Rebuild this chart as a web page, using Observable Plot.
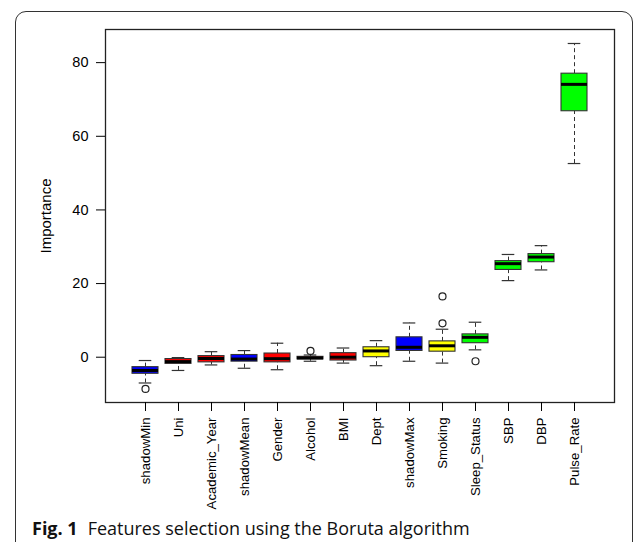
<!DOCTYPE html>
<html>
<head>
<meta charset="utf-8">
<script src="https://cdn.jsdelivr.net/npm/d3@7"></script>
<script src="https://cdn.jsdelivr.net/npm/@observablehq/plot@0.6"></script>
<style>
  html, body { margin: 0; padding: 0; background: #fff; }
  body { width: 638px; height: 542px; position: relative; overflow: hidden; }
  #card { position: absolute; left: 15px; top: 11px; width: 618px; height: 620px;
          border: 1.3px solid #333; border-radius: 11px; box-sizing: border-box; }
  #chart { position: absolute; left: 0; top: 0; }
  #chart svg g[aria-label="x-axis tick label"] { font-size: 13.2px !important; }
  #chart svg g[aria-label="y-axis tick label"] { font-size: 14.5px !important; }
  #chart svg g[aria-label="y-axis label"] { font-size: 15px !important; }
  #caption { position: absolute; left: 32px; top: 516px; font-family: "Open Sans", "Noto Sans", sans-serif;
             font-size: 18px; color: #111; white-space: nowrap; }
  #caption b { font-weight: 700; margin-right: 10px; }
</style>
</head>
<body>
<div id="card"></div>
<div id="chart"></div>
<div id="caption"><b>Fig. 1</b>Features selection using the Boruta algorithm</div>
<script>
const categories = ["shadowMin","Uni","Academic_Year","shadowMean","Gender","Alcohol","BMI","Dept","shadowMax","Smoking","Sleep_Status","SBP","DBP","Pulse_Rate"];
const whiskerLow  = [-7.0, -3.6, -2.1, -3.0, -3.4, -1.1, -1.6, -2.3, -1.1, -1.6,  2.0, 20.8, 23.7, 52.6];
const quartile1   = [-4.5, -1.8, -1.4, -1.2, -1.4, -0.6, -0.9,  0.0,  1.7,  1.5,  3.8, 23.7, 25.8, 66.8];
const medians     = [-3.6, -1.2, -0.35,-0.5, -0.4, -0.2,  0.0,  1.7,  2.7,  3.1,  5.4, 25.4, 27.2, 74.1];
const quartile3   = [-2.7, -0.5,  0.3,  0.6,  1.0,  0.1,  1.1,  2.7,  5.4,  4.3,  6.2, 26.1, 28.0, 77.0];
const whiskerHigh = [-0.9, -0.1,  1.5,  1.8,  3.8,  0.6,  2.5,  4.5,  9.3,  7.6,  9.5, 27.9, 30.3, 85.2];
const boxColors   = ["#0000ff","#ff0000","#ff0000","#0000ff","#ff0000","#ff0000","#ff0000","#ffff00","#0000ff","#ffff00","#00ff00","#00ff00","#00ff00","#00ff00"];
const outlierCategory = ["shadowMin","Alcohol","Smoking","Smoking","Sleep_Status"];
const outlierValue    = [-8.6, 1.7, 9.2, 16.5, -1.1];
const yTicks = [0, 20, 40, 60, 80];

const rows = categories.map((c, i) => ({
  c, lo: whiskerLow[i], q1: quartile1[i], med: medians[i], q3: quartile3[i], hi: whiskerHigh[i], col: boxColors[i]
}));
const outliers = outlierCategory.map((c, i) => ({c, v: outlierValue[i]}));

const capInset = 6.7;
const chart = Plot.plot({
  width: 638,
  height: 512,
  marginLeft: 105,
  marginRight: 24,
  marginTop: 29,
  marginBottom: 110,
  style: {fontFamily: "'Liberation Sans', Arial, sans-serif", color: "#000", background: "transparent"},
  x: {type: "band", domain: categories, paddingInner: 0.2, paddingOuter: 0.66},
  y: {domain: [-12.3, 89.0]},
  color: {type: "identity"},
  marks: [
    Plot.ruleX(rows, {x: "c", y1: "q3", y2: "hi", stroke: "#333", strokeWidth: 1, strokeDasharray: "4,3"}),
    Plot.ruleX(rows, {x: "c", y1: "lo", y2: "q1", stroke: "#333", strokeWidth: 1, strokeDasharray: "4,3"}),
    Plot.tickY(rows, {x: "c", y: "hi", stroke: "#333", strokeWidth: 1.2, insetLeft: capInset, insetRight: capInset}),
    Plot.tickY(rows, {x: "c", y: "lo", stroke: "#333", strokeWidth: 1.2, insetLeft: capInset, insetRight: capInset}),
    Plot.barY(rows, {x: "c", y1: "q1", y2: "q3", fill: "col", stroke: "#333", strokeWidth: 1.1}),
    Plot.tickY(rows, {x: "c", y: "med", stroke: "#000", strokeWidth: 3}),
    Plot.dot(outliers, {x: "c", y: "v", r: 3.5, stroke: "#222", strokeWidth: 1.2, fill: "none"}),
    Plot.frame({stroke: "#222", strokeWidth: 1.3}),
    Plot.axisY({ticks: yTicks, tickSize: 9, tickPadding: 8, fontSize: 14.5, label: "Importance",
                labelAnchor: "center", labelOffset: 65, labelArrow: "none"}),
    Plot.axisX({tickRotate: -90, tickSize: 9, tickPadding: 6, fontSize: 13.2, label: null})
  ]
});
document.getElementById("chart").appendChild(chart);
</script>
</body>
</html>
